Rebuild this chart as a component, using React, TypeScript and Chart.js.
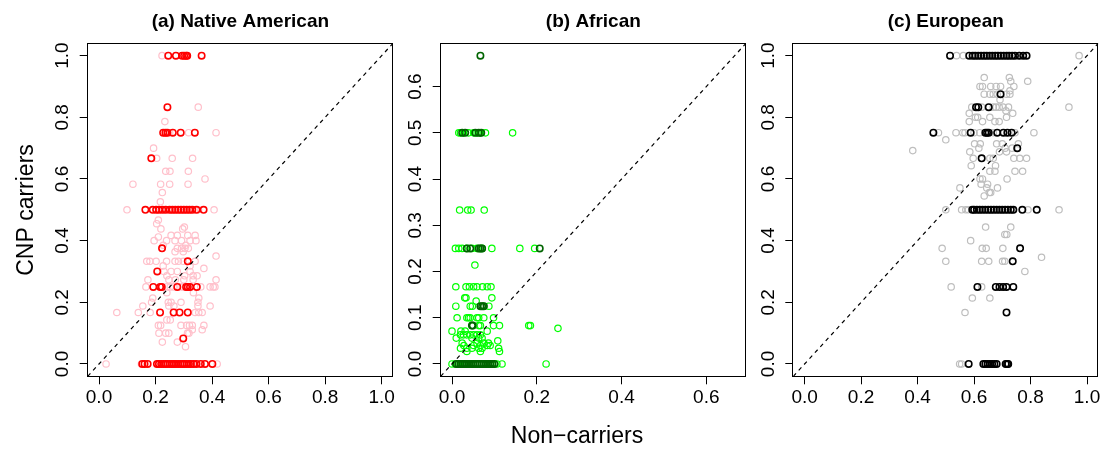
import React, { useEffect, useRef } from "react";
import { Chart, registerables } from "chart.js";

Chart.register(...registerables);

const FONT = '"Liberation Sans", Arial, Helvetica, sans-serif';

// Axis tick labels
const unitTicks = [0, 0.2, 0.4, 0.6, 0.8, 1.0];
const afrXTicks = [0, 0.2, 0.4, 0.6];
const afrYTicks = [0, 0.1, 0.2, 0.3, 0.4, 0.5, 0.6];

// Data limits (before R's 4% axis extension)
const unitRange = [0, 1];
const afrRange = [0, 0.667];

type Row = [number, number[]];

// (a) Native American — light: all CNPs (pink), dark: highlighted (red). Rows: [CNP carriers, Non-carriers values]
const naLight: Row[] = [
  [1, [0.223]],
  [0.833, [0.351]],
  [0.786, [0.233]],
  [0.75, [0.25, 0.317, 0.414]],
  [0.7, [0.193]],
  [0.667, [0.204, 0.259, 0.331]],
  [0.625, [0.236, 0.251, 0.316]],
  [0.6, [0.375]],
  [0.583, [0.12, 0.218, 0.25, 0.315]],
  [0.556, [0.224]],
  [0.526, [0.217]],
  [0.5, [0.099, 0.205, 0.218, 0.23, 0.245, 0.258, 0.268, 0.283, 0.295, 0.305, 0.318, 0.338, 0.352, 0.407]],
  [0.467, [0.21]],
  [0.455, [0.204]],
  [0.444, [0.302]],
  [0.438, [0.219, 0.296]],
  [0.417, [0.255, 0.277, 0.314, 0.34]],
  [0.412, [0.21]],
  [0.4, [0.195, 0.239, 0.269, 0.292, 0.322, 0.343]],
  [0.385, [0.227, 0.307]],
  [0.375, [0.277, 0.292, 0.304, 0.316]],
  [0.364, [0.269, 0.298]],
  [0.35, [0.414]],
  [0.333, [0.169, 0.18, 0.202, 0.239, 0.269, 0.281, 0.298, 0.34]],
  [0.318, [0.227, 0.322]],
  [0.31, [0.371]],
  [0.3, [0.23, 0.255, 0.277, 0.322]],
  [0.286, [0.24, 0.303, 0.333, 0.347]],
  [0.273, [0.173, 0.247, 0.27, 0.3, 0.333, 0.414]],
  [0.25, [0.166, 0.24, 0.252, 0.264, 0.29, 0.298, 0.36, 0.393, 0.404, 0.41]],
  [0.231, [0.24, 0.334]],
  [0.214, [0.19, 0.353]],
  [0.2, [0.186, 0.245, 0.255, 0.29, 0.35]],
  [0.188, [0.155, 0.247, 0.265, 0.35, 0.393]],
  [0.167, [0.063, 0.139, 0.181, 0.34, 0.353, 0.365]],
  [0.143, [0.24, 0.252]],
  [0.125, [0.21, 0.218, 0.29, 0.31, 0.32, 0.33, 0.371]],
  [0.111, [0.33, 0.365]],
  [0.1, [0.212, 0.236, 0.247, 0.313, 0.318]],
  [0.071, [0.224, 0.277]],
  [0.056, [0.306]],
  [0, [0.025, 0.15, 0.21, 0.26, 0.3, 0.33, 0.418]],
];
const naDark: Row[] = [
  [1, [0.245, 0.272, 0.294, 0.301, 0.308, 0.312, 0.363]],
  [0.833, [0.242]],
  [0.75, [0.227, 0.235, 0.242, 0.261, 0.289, 0.339]],
  [0.667, [0.185]],
  [0.5, [0.164, 0.19, 0.202, 0.212, 0.224, 0.236, 0.25, 0.26, 0.27, 0.28, 0.29, 0.3, 0.31, 0.32, 0.33, 0.345, 0.37]],
  [0.375, [0.223]],
  [0.333, [0.314]],
  [0.3, [0.206]],
  [0.25, [0.192, 0.216, 0.222, 0.277, 0.308, 0.314, 0.322, 0.346]],
  [0.167, [0.216, 0.264, 0.285, 0.314]],
  [0.083, [0.298]],
  [0, [0.153, 0.161, 0.172, 0.205, 0.212, 0.22, 0.228, 0.235, 0.242, 0.25, 0.258, 0.265, 0.272, 0.28, 0.288, 0.295, 0.302, 0.31, 0.318, 0.325, 0.335, 0.345, 0.36, 0.375, 0.401]],
];

// (b) African
const afLight: Row[] = [
  [0.5, [0.016, 0.02, 0.027, 0.039, 0.051, 0.059, 0.067, 0.079, 0.143]],
  [0.333, [0.018, 0.037, 0.045, 0.076]],
  [0.25, [0.008, 0.016, 0.024, 0.035, 0.047, 0.059, 0.071, 0.094, 0.16, 0.195]],
  [0.214, [0.054]],
  [0.167, [0.009, 0.033, 0.041, 0.051, 0.059, 0.072, 0.083, 0.092]],
  [0.143, [0.03, 0.033, 0.094]],
  [0.136, [0.057]],
  [0.125, [0.009, 0.043, 0.048, 0.075, 0.087]],
  [0.1, [0.012, 0.035, 0.039, 0.043, 0.059, 0.063, 0.075, 0.098]],
  [0.083, [0.063, 0.067, 0.098, 0.112, 0.181, 0.185]],
  [0.077, [0.25]],
  [0.071, [0.0, 0.021, 0.031, 0.083]],
  [0.063, [0.02, 0.027, 0.035, 0.043, 0.051, 0.059, 0.067]],
  [0.056, [0.01, 0.047, 0.063, 0.071]],
  [0.05, [0.108]],
  [0.045, [0.024, 0.059, 0.075, 0.086]],
  [0.04, [0.028, 0.051, 0.067, 0.083, 0.09]],
  [0.034, [0.02, 0.035, 0.047, 0.063, 0.071, 0.11]],
  [0.027, [0.035, 0.067, 0.112]],
  [0, [0.0, 0.008, 0.012, 0.016, 0.02, 0.024, 0.028, 0.032, 0.04, 0.05, 0.06, 0.07, 0.08, 0.09, 0.1, 0.106, 0.118, 0.222]],
];
const afDark: Row[] = [
  [0.667, [0.067]],
  [0.5, [0.024, 0.031, 0.055, 0.063, 0.069]],
  [0.25, [0.035, 0.043, 0.063, 0.067, 0.071, 0.207]],
  [0.125, [0.067, 0.071, 0.075]],
  [0.083, [0.047, 0.049]],
  [0, [0.01, 0.015, 0.02, 0.025, 0.03, 0.035, 0.04, 0.045, 0.05, 0.055, 0.06, 0.065, 0.07, 0.075, 0.08, 0.085, 0.09, 0.095, 0.1]],
];

// (c) European
const euLight: Row[] = [
  [1, [0.538, 0.562, 0.6, 0.64, 0.68, 0.72, 0.76, 0.972]],
  [0.929, [0.636, 0.725]],
  [0.917, [0.73, 0.79]],
  [0.9, [0.621, 0.63, 0.659, 0.678, 0.694, 0.741]],
  [0.886, [0.727]],
  [0.875, [0.636, 0.656, 0.668, 0.682, 0.715, 0.727]],
  [0.857, [0.692]],
  [0.833, [0.592, 0.627, 0.668, 0.678, 0.689, 0.703, 0.722, 0.936]],
  [0.821, [0.713]],
  [0.813, [0.583, 0.737]],
  [0.8, [0.605, 0.613, 0.656, 0.715]],
  [0.786, [0.583, 0.63, 0.674, 0.689]],
  [0.75, [0.474, 0.536, 0.56, 0.568, 0.6, 0.62, 0.668, 0.745, 0.812]],
  [0.727, [0.5]],
  [0.714, [0.602, 0.622, 0.68, 0.7, 0.757]],
  [0.7, [0.617, 0.71, 0.735]],
  [0.692, [0.383]],
  [0.688, [0.585, 0.69, 0.715]],
  [0.667, [0.597, 0.656, 0.668, 0.741, 0.762, 0.786]],
  [0.643, [0.59, 0.676]],
  [0.625, [0.656, 0.674, 0.745, 0.772]],
  [0.6, [0.621, 0.63, 0.717]],
  [0.583, [0.625, 0.648]],
  [0.571, [0.55, 0.645, 0.683]],
  [0.556, [0.654, 0.659]],
  [0.545, [0.636]],
  [0.5, [0.5, 0.556, 0.571, 0.58, 0.62, 0.66, 0.7, 0.74, 0.791, 0.901]],
  [0.444, [0.641, 0.73]],
  [0.42, [0.709, 0.716]],
  [0.4, [0.588]],
  [0.375, [0.487, 0.629, 0.643, 0.702]],
  [0.346, [0.839]],
  [0.333, [0.5, 0.627, 0.652, 0.701, 0.709]],
  [0.3, [0.78]],
  [0.25, [0.519, 0.627]],
  [0.214, [0.594, 0.656]],
  [0.167, [0.568]],
  [0, [0.549, 0.556, 0.718]],
];
const euDark: Row[] = [
  [1, [0.515, 0.583, 0.595, 0.605, 0.615, 0.625, 0.635, 0.645, 0.655, 0.665, 0.675, 0.685, 0.695, 0.705, 0.715, 0.725, 0.735, 0.745, 0.76, 0.774, 0.786]],
  [0.875, [0.694]],
  [0.833, [0.607, 0.615, 0.652]],
  [0.75, [0.456, 0.588, 0.64, 0.646, 0.652, 0.682, 0.704, 0.718, 0.733]],
  [0.7, [0.753]],
  [0.667, [0.627]],
  [0.5, [0.594, 0.6, 0.61, 0.62, 0.63, 0.64, 0.65, 0.66, 0.67, 0.68, 0.69, 0.7, 0.71, 0.72, 0.73, 0.739, 0.771, 0.822]],
  [0.375, [0.763]],
  [0.333, [0.737]],
  [0.25, [0.612, 0.677, 0.69, 0.703, 0.715, 0.739]],
  [0.167, [0.715]],
  [0, [0.581, 0.633, 0.64, 0.648, 0.656, 0.664, 0.672, 0.68, 0.712, 0.717, 0.721]],
];

const toPoints = (rows: Row[]) => rows.flatMap(([y, xs]) => xs.map((x) => ({ x, y })));

type Spec = {
  title: string;
  left: number;
  width: number;
  plotLeft: number;
  padRight: number;
  range: number[];
  xTicks: number[];
  yTicks: number[];
  light: Row[];
  dark: Row[];
  lightColor: string;
  darkColor: string;
  extra?: (ctx: CanvasRenderingContext2D) => void;
};

const H = 449;
const PLOT_TOP = 43.3;
const PLOT_BOTTOM = 376.3;

function Panel({ spec }: { spec: Spec }) {
  const ref = useRef<HTMLCanvasElement>(null);
  useEffect(() => {
    const [a, b] = spec.range;
    const ext = (b - a) * 0.04;
    const lo = a - ext;
    const hi = b + ext;
    const fmt = (v: number) => v.toFixed(1);
    const decor = {
      id: "decor",
      afterDraw(chart: any) {
        const { ctx, chartArea: ca, scales } = chart;
        ctx.save();
        ctx.strokeStyle = "#000";
        ctx.lineWidth = 1;
        const l = Math.round(ca.left) - 0.5;
        const t = Math.round(ca.top) + 0.5;
        const r = Math.round(ca.right) - 0.5;
        const btm = Math.round(ca.bottom) + 0.5;
        ctx.strokeRect(l, t, r - l, btm - t);
        ctx.fillStyle = "#000";
        ctx.font = `19px ${FONT}`;
        ctx.textAlign = "center";
        ctx.textBaseline = "alphabetic";
        for (const v of spec.xTicks) {
          ctx.fillText(fmt(v), scales.x.getPixelForValue(v), ca.bottom + 26.7);
        }
        for (const v of spec.yTicks) {
          ctx.save();
          ctx.translate(ca.left - 19.4, scales.y.getPixelForValue(v));
          ctx.rotate(-Math.PI / 2);
          ctx.fillText(fmt(v), 0, 0);
          ctx.restore();
        }
        ctx.font = `bold 19px ${FONT}`;
        ctx.fillText(spec.title, (ca.left + ca.right) / 2, 27);
        if (spec.extra) spec.extra(ctx);
        ctx.restore();
      },
    };
    const gridOpts = {
      drawOnChartArea: false,
      drawTicks: true,
      tickLength: 8,
      color: "#000",
      lineWidth: 1,
    };
    const chart = new Chart(ref.current as HTMLCanvasElement, {
      type: "scatter",
      data: {
        datasets: [
          {
            type: "line",
            data: [
              { x: lo, y: lo },
              { x: hi, y: hi },
            ],
            borderColor: "#000",
            borderWidth: 1.2,
            borderDash: [4, 4],
            pointRadius: 0,
            fill: false,
            order: 0,
          } as any,
          {
            data: toPoints(spec.dark),
            borderColor: spec.darkColor,
            backgroundColor: "rgba(0,0,0,0)",
            pointRadius: 3.2,
            borderWidth: 1.6,
            order: 1,
          },
          {
            data: toPoints(spec.light),
            borderColor: spec.lightColor,
            backgroundColor: "rgba(0,0,0,0)",
            pointRadius: 3.2,
            borderWidth: 1.2,
            order: 2,
          },
        ],
      },
      options: {
        animation: false,
        responsive: false,
        devicePixelRatio: 1,
        events: [],
        layout: { padding: { left: 0, top: PLOT_TOP, right: spec.padRight, bottom: 0 } },
        plugins: {
          legend: { display: false },
          tooltip: { enabled: false },
          title: { display: false },
        },
        scales: {
          x: {
            type: "linear",
            min: lo,
            max: hi,
            afterBuildTicks: (s: any) => {
              s.ticks = spec.xTicks.map((v) => ({ value: v }));
            },
            afterFit: (s: any) => {
              s.height = H - PLOT_BOTTOM;
            },
            ticks: { display: false },
            grid: gridOpts,
            border: { display: false },
          },
          y: {
            type: "linear",
            min: lo,
            max: hi,
            afterBuildTicks: (s: any) => {
              s.ticks = spec.yTicks.map((v) => ({ value: v }));
            },
            afterFit: (s: any) => {
              s.width = spec.plotLeft;
            },
            ticks: { display: false },
            grid: gridOpts,
            border: { display: false },
          },
        },
      },
      plugins: [decor],
    });
    return () => chart.destroy();
  }, [spec]);
  return (
    <canvas
      ref={ref}
      width={spec.width}
      height={H}
      style={{ position: "absolute", left: spec.left, top: 0, width: spec.width, height: H }}
    />
  );
}

const specs: Spec[] = [
  {
    title: "(a) Native American",
    left: 0,
    width: 400,
    plotLeft: 87.7,
    padRight: 7,
    range: unitRange,
    xTicks: unitTicks,
    yTicks: unitTicks,
    light: naLight,
    dark: naDark,
    lightColor: "#FFC0CB",
    darkColor: "#FF0000",
    extra: (ctx) => {
      ctx.save();
      ctx.font = `23px ${FONT}`;
      ctx.translate(33, 210);
      ctx.rotate(-Math.PI / 2);
      ctx.textAlign = "center";
      ctx.fillText("CNP carriers", 0, 0);
      ctx.restore();
    },
  },
  {
    title: "(b) African",
    left: 400,
    width: 353,
    plotLeft: 40.7,
    padRight: 7,
    range: afrRange,
    xTicks: afrXTicks,
    yTicks: afrYTicks,
    light: afLight,
    dark: afDark,
    lightColor: "#00FF00",
    darkColor: "#006400",
    extra: (ctx) => {
      ctx.save();
      ctx.font = `23px ${FONT}`;
      ctx.textAlign = "center";
      ctx.fillText("Non\u2212carriers", 177, 443);
      ctx.restore();
    },
  },
  {
    title: "(c) European",
    left: 753,
    width: 353,
    plotLeft: 40.3,
    padRight: 7.7,
    range: unitRange,
    xTicks: unitTicks,
    yTicks: unitTicks,
    light: euLight,
    dark: euDark,
    lightColor: "#BEBEBE",
    darkColor: "#000000",
  },
];

export default function App() {
  return (
    <div style={{ position: "fixed", left: 0, top: 0, width: 1106, height: H, background: "#fff" }}>
      {specs.map((s) => (
        <Panel key={s.title} spec={s} />
      ))}
    </div>
  );
}
